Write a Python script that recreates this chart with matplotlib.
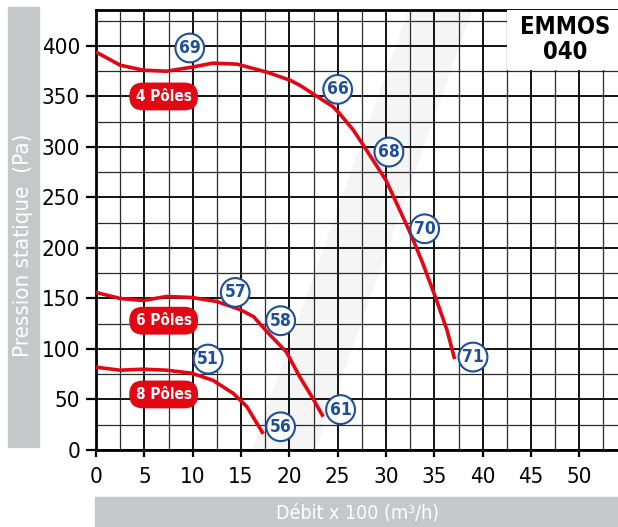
import numpy as np
import matplotlib.pyplot as plt
from matplotlib import font_manager
from matplotlib.patches import Rectangle, Polygon

# police etroite si disponible
narrow = None
for fam, st in [('Liberation Sans Narrow', 'normal'), ('DejaVu Sans', 'condensed'),
                ('Roboto Condensed', 'normal'), ('Open Sans', 'condensed')]:
    try:
        f = font_manager.findfont(font_manager.FontProperties(family=fam, stretch=st),
                                  fallback_to_default=False)
        if 'arrow' in f or 'ondensed' in f:
            narrow = (fam, st)
            break
    except Exception:
        pass
if narrow:
    plt.rcParams['font.family'] = [narrow[0], 'DejaVu Sans']
    plt.rcParams['font.stretch'] = narrow[1]
else:
    plt.rcParams['font.family'] = ['Liberation Sans', 'DejaVu Sans']

# courbes (debit x100 m3/h, pression Pa)
x_4p = [0, 2.5, 4.9, 7.3, 9.9, 12.1, 14.6, 17.7, 20.1, 21.1, 23.2, 24.5, 25.2,
        26.6, 27.5, 30, 31.4, 32.5, 33.8, 35.2, 36.3, 37.1]
y_4p = [394, 381, 376, 375, 379, 383, 382, 374, 366, 361, 348, 340, 333,
        317, 304, 267, 238, 215, 185, 149, 119, 90]

x_6p = [0, 2.5, 4.9, 7.3, 9.9, 12.5, 14.9, 16.3, 17.7, 19.7, 21.1, 22.5, 23.5]
y_6p = [156, 150, 148, 152, 151, 147, 139, 132, 117, 97, 72, 50, 33]

x_8p = [0, 2.5, 4.9, 7.3, 9.9, 12.1, 14.2, 15.6, 17.3]
y_8p = [82, 79, 80, 79, 76, 69, 56, 43, 16]

# niveaux sonores (dB) et positions
noise_vals = ['69', '66', '68', '70', '71', '57', '58', '61', '51', '56']
noise_x = [9.7, 25.0, 30.3, 34.0, 39.0, 14.4, 19.1, 25.3, 11.6, 19.1]
noise_y = [398, 357, 295, 219, 92, 156, 128, 40, 90, 23]

pole_names = ['4 Pôles', '6 Pôles', '8 Pôles']
pole_x = [7.0, 7.0, 7.0]
pole_y = [350, 128, 55]

red = '#e30613'
blue = '#1d4f9b'

fig = plt.figure(figsize=(6.18, 5.27), dpi=100)
W, H = 618, 527

# bandes grises des titres d'axes
fig.patches.append(Rectangle((8 / W, 1 - 447 / H), 31 / W, 440 / H,
                             transform=fig.transFigure, color='#c6c7c9', zorder=0))
fig.patches.append(Rectangle((95 / W, 0), 523 / W, 30 / H,
                             transform=fig.transFigure, color='#c6c7c9', zorder=0))
fig.text(23 / W, 1 - 245 / H, 'Pression statique  (Pa)', color='white',
         fontsize=16, rotation=90, ha='center', va='center')
fig.text(357 / W, 14 / H, 'Débit x 100 (m³/h)', color='white', fontsize=14,
         ha='center', va='center')

ax = fig.add_axes([96 / W, 77 / H, 522 / W, 440 / H])
ax.set_facecolor('none')
ax.set_xlim(0, 54)
ax.set_ylim(0, 435.6)

# reflet diagonal leger
ax.add_patch(Polygon([(0.30, 0.0), (0.42, 0.0), (0.72, 1.0), (0.60, 1.0)], closed=True,
                     transform=ax.transAxes, color='#f5f5f5', zorder=0.1))

ax.set_xticks(np.arange(0, 51, 5))
ax.set_yticks(np.arange(0, 401, 50))
ax.set_xticks(np.arange(2.5, 54, 5), minor=True)
ax.set_yticks(np.arange(25, 436, 50), minor=True)
ax.tick_params(axis='y', which='major', direction='out', length=7.5, width=1.6,
               labelsize=16, pad=4)
ax.tick_params(axis='x', which='major', direction='out', length=5, width=1.6,
               labelsize=16, pad=7)
ax.tick_params(which='minor', length=0)
ax.grid(which='major', color='black', linewidth=1.3)
ax.grid(which='minor', color='#2a2a2a', linewidth=0.9)
ax.set_axisbelow(True)
for s in ['left', 'bottom', 'top']:
    ax.spines[s].set_linewidth(2)
ax.spines['right'].set_visible(False)

for xs, ys in [(x_4p, y_4p), (x_6p, y_6p), (x_8p, y_8p)]:
    ax.plot(xs, ys, color=red, linewidth=2.6, solid_capstyle='butt',
            solid_joinstyle='round', zorder=3)

for name, px, py in zip(pole_names, pole_x, pole_y):
    ax.text(px, py, name, color='white', fontsize=11, fontweight='bold',
            ha='center', va='center', zorder=4,
            bbox=dict(boxstyle='round,pad=0.42,rounding_size=0.9', fc=red, ec='none'))

for v, nx, ny in zip(noise_vals, noise_x, noise_y):
    ax.text(nx, ny, v, color=blue, fontsize=12.5, fontweight='bold',
            ha='center', va='center', zorder=4,
            bbox=dict(boxstyle='circle,pad=0.2', fc='white', ec=blue, lw=1.5))

# cartouche du modele
fig.patches.append(Rectangle((507 / W, 1 - 70 / H), 111 / W, 60 / H,
                             transform=fig.transFigure, fc='white', ec='none', zorder=5))
fig.text(565 / W, 1 - 27 / H, 'EMMOS', fontsize=17, fontweight='bold',
         ha='center', va='center', zorder=6)
fig.text(565 / W, 1 - 52 / H, '040', fontsize=17, fontweight='bold',
         ha='center', va='center', zorder=6)

fig.savefig('out.png', dpi=100)
